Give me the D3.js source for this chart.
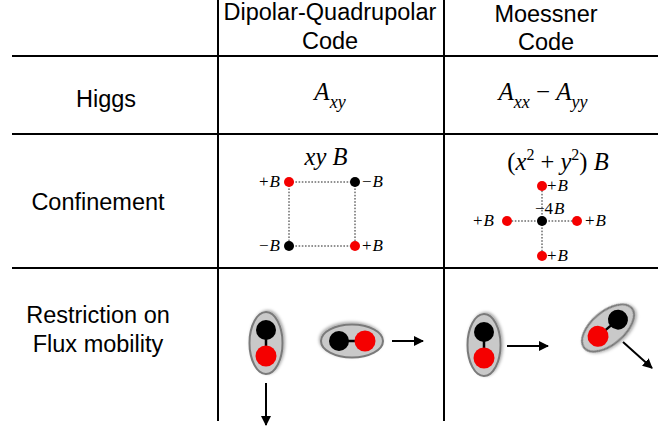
<!DOCTYPE html>
<html><head><meta charset="utf-8">
<script src="https://cdn.jsdelivr.net/npm/d3@7/dist/d3.min.js"></script>
<style>body{margin:0;background:#fff}svg{display:block}</style>
</head><body>
<script>
// ---------- data ----------
const columns = [["Dipolar-Quadrupolar", "Code"], ["Moessner", "Code"]];
const rowLabels = [["Higgs"], ["Confinement"], ["Restriction on", "Flux mobility"]];
const higgsTerms = [
  [{t: "A", sub: "xy"}],
  [{t: "A", sub: "xx"}, {op: " \u2212 "}, {t: "A", sub: "yy"}]
];
const confinementTitles = [
  [{i: "xy"}, {i: " B"}],
  [{u: "("}, {i: "x"}, {sup: "2"}, {u: " + "}, {i: "y"}, {sup: "2"}, {u: ")"}, {i: " B"}]
];
const dqCharges = [
  {i: 0, j: 0, sign: "+", n: "", q: 1},
  {i: 1, j: 0, sign: "\u2212", n: "", q: -1},
  {i: 0, j: 1, sign: "\u2212", n: "", q: -1},
  {i: 1, j: 1, sign: "+", n: "", q: 1}
];
const moCharges = [
  {i: 0, j: -1, sign: "+", n: "", q: 1},
  {i: -1, j: 0, sign: "+", n: "", q: 1},
  {i: 0, j: 0, sign: "\u2212", n: "4", q: -4},
  {i: 1, j: 0, sign: "+", n: "", q: 1},
  {i: 0, j: 1, sign: "+", n: "", q: 1}
];
const dqBonds = [[0, 1], [0, 2], [1, 3], [2, 3]];
const moBonds = [[2, 0], [2, 1], [2, 3], [2, 4]];
// dipole axis angle (deg, direction red->black, screen coords), move direction (deg)
const dipoles = [
  {code: 0, axis: -90, move: 90},
  {code: 0, axis: 180, move: 0},
  {code: 1, axis: -90, move: 0},
  {code: 1, axis: -40, move: 42}
];

// ---------- layout ----------
const W = 671, H = 430;
const svg = d3.select("body").append("svg").attr("width", W).attr("height", H);
const defs = svg.append("defs");
const f = defs.append("filter").attr("id", "sh").attr("x", "-30%").attr("y", "-30%").attr("width", "160%").attr("height", "160%");
f.append("feDropShadow").attr("dx", 1).attr("dy", 1.5).attr("stdDeviation", 1.5).attr("flood-color", "#000").attr("flood-opacity", 0.35);
defs.append("marker").attr("id", "ah").attr("viewBox", "0 0 10 10").attr("refX", 9).attr("refY", 5)
  .attr("markerWidth", 5).attr("markerHeight", 5).attr("orient", "auto")
  .append("path").attr("d", "M0,0L10,5L0,10Z").attr("fill", "#000");

const SANS = "'Liberation Sans', Arial, Helvetica, sans-serif";
const SERIF = "'Liberation Serif', 'Times New Roman', serif";
const SANS_SIZE = 23.5;

const colX = d3.scaleOrdinal().domain([0, 1]).range([330, 546]);
const gridX = [12, 218, 444, 658];
const gridY = [56, 134, 268];

// grid lines
svg.selectAll("line.h").data(gridY).join("line").attr("class", "h")
  .attr("x1", gridX[0]).attr("x2", gridX[3]).attr("y1", d => d).attr("y2", d => d)
  .attr("stroke", "#000").attr("stroke-width", 2);
svg.selectAll("line.v").data([gridX[1], gridX[2]]).join("line").attr("class", "v")
  .attr("x1", d => d).attr("x2", d => d).attr("y1", 0).attr("y2", 421)
  .attr("stroke", "#000").attr("stroke-width", 2);

// headers
const headBase = [[20, 49], [22, 50]];
columns.forEach((lines, c) => {
  lines.forEach((s, k) => {
    svg.append("text").attr("x", colX(c)).attr("y", headBase[c][k]).attr("text-anchor", "middle")
      .attr("font-family", SANS).attr("font-size", SANS_SIZE).attr("fill", "#000").text(s);
  });
});

// row labels
const rowPos = [{x: 106, y: [107]}, {x: 98, y: [210]}, {x: 98, y: [323, 352]}];
rowLabels.forEach((lines, r) => {
  lines.forEach((s, k) => {
    svg.append("text").attr("x", rowPos[r].x).attr("y", rowPos[r].y[k]).attr("text-anchor", "middle")
      .attr("font-family", SANS).attr("font-size", SANS_SIZE).attr("fill", "#000").text(s);
  });
});

// Higgs formulas
higgsTerms.forEach((terms, c) => {
  const t = svg.append("text").attr("x", colX(c) + (c ? -3 : 0)).attr("y", 100).attr("text-anchor", "middle")
    .attr("font-family", SERIF).attr("font-size", 25).attr("fill", "#000");
  let shifted = false;
  terms.forEach(term => {
    if (term.op) {
      t.append("tspan").attr("dy", shifted ? -8 : 0).attr("font-style", "normal").text(term.op);
      shifted = false;
    } else {
      t.append("tspan").attr("dy", shifted ? -8 : 0).attr("font-style", "italic").text(term.t);
      t.append("tspan").attr("dy", 8).attr("font-style", "italic").attr("font-size", 18).text(term.sub);
      shifted = true;
    }
  });
});

// Confinement titles
const titleBase = [165, 170];
confinementTitles.forEach((toks, c) => {
  const t = svg.append("text").attr("x", colX(c) + (c ? 12 : -4)).attr("y", titleBase[c]).attr("text-anchor", "middle")
    .attr("font-family", SERIF).attr("font-size", 24.5).attr("fill", "#000");
  let up = false;
  toks.forEach(tok => {
    if (tok.sup) {
      t.append("tspan").attr("dy", -10).attr("font-size", 16).text(tok.sup); up = true;
    } else {
      const sp = t.append("tspan").attr("dy", up ? 10 : 0);
      up = false;
      if (tok.i) sp.attr("font-style", "italic").text(tok.i);
      else sp.attr("font-style", "normal").text(tok.u);
    }
  });
});

// lattices
function drawLattice(charges, bonds, xs, ys, labelFn) {
  const g = svg.append("g");
  g.selectAll("line").data(bonds).join("line")
    .attr("x1", d => xs(charges[d[0]].i)).attr("y1", d => ys(charges[d[0]].j))
    .attr("x2", d => xs(charges[d[1]].i)).attr("y2", d => ys(charges[d[1]].j))
    .attr("stroke", "#222").attr("stroke-width", 1).attr("stroke-dasharray", "1.6,1.6");
  g.selectAll("circle").data(charges).join("circle")
    .attr("cx", d => xs(d.i)).attr("cy", d => ys(d.j)).attr("r", 5)
    .attr("fill", d => d.q > 0 ? "#f50000" : "#000");
  charges.forEach(d => {
    const p = labelFn(d, xs(d.i), ys(d.j));
    const t = g.append("text").attr("x", p.x).attr("y", p.y).attr("text-anchor", p.anchor)
      .attr("font-family", SERIF).attr("font-size", 17).attr("fill", "#000");
    t.append("tspan").text(d.sign + d.n);
    t.append("tspan").attr("dx", 1).attr("font-style", "italic").text("B");
  });
}
const dqX = d3.scaleLinear().domain([0, 1]).range([289, 355]);
const dqY = d3.scaleLinear().domain([0, 1]).range([182, 246]);
drawLattice(dqCharges, dqBonds, dqX, dqY, (d, x, y) =>
  d.i === 0 ? {x: x - 9, y: y + 5, anchor: "end"} : {x: x + 7, y: y + 5, anchor: "start"});
const moX = d3.scaleLinear().domain([-1, 1]).range([507, 577]);
const moY = d3.scaleLinear().domain([-1, 1]).range([186, 256]);
drawLattice(moCharges, moBonds, moX, moY, (d, x, y) => {
  if (d.i === 0 && d.j === 0) return {x: x - 7, y: y - 7, anchor: "start"};
  if (d.i === -1) return {x: x - 13, y: y + 5, anchor: "end"};
  if (d.i === 1) return {x: x + 8, y: y + 5, anchor: "start"};
  return {x: x + 5, y: y + 5, anchor: "start"};
});

// dipoles
const dipLayout = [
  {cx: 266, cy: 343, ax: 266, ay: 383, len: 42},
  {cx: 352, cy: 341, ax: 392, ay: 341, len: 31},
  {cx: 484, cy: 345, ax: 507, ay: 346, len: 41},
  {cx: 608, cy: 328, ax: 623, ay: 342, len: 39}
];
const rad = a => a * Math.PI / 180;
dipoles.forEach((d, k) => {
  const L = dipLayout[k];
  const g = svg.append("g").attr("transform", `translate(${L.cx},${L.cy}) rotate(${d.axis})`);
  g.append("ellipse").attr("rx", 31).attr("ry", 16.5).attr("fill", "#c9c9c9")
    .attr("stroke", "#7a7a7a").attr("stroke-width", 2).attr("filter", "url(#sh)");
  g.append("line").attr("x1", -13).attr("x2", 13).attr("y1", 0).attr("y2", 0).attr("stroke", "#000").attr("stroke-width", 2.5);
  g.append("circle").attr("cx", 13).attr("cy", 0).attr("r", 10).attr("fill", "#000");
  g.append("circle").attr("cx", -13).attr("cy", 0).attr("r", 10.5).attr("fill", "#f50000");
  svg.append("line").attr("x1", L.ax).attr("y1", L.ay)
    .attr("x2", L.ax + L.len * Math.cos(rad(d.move))).attr("y2", L.ay + L.len * Math.sin(rad(d.move)))
    .attr("stroke", "#000").attr("stroke-width", 2).attr("marker-end", "url(#ah)");
});
</script>
</body></html>
